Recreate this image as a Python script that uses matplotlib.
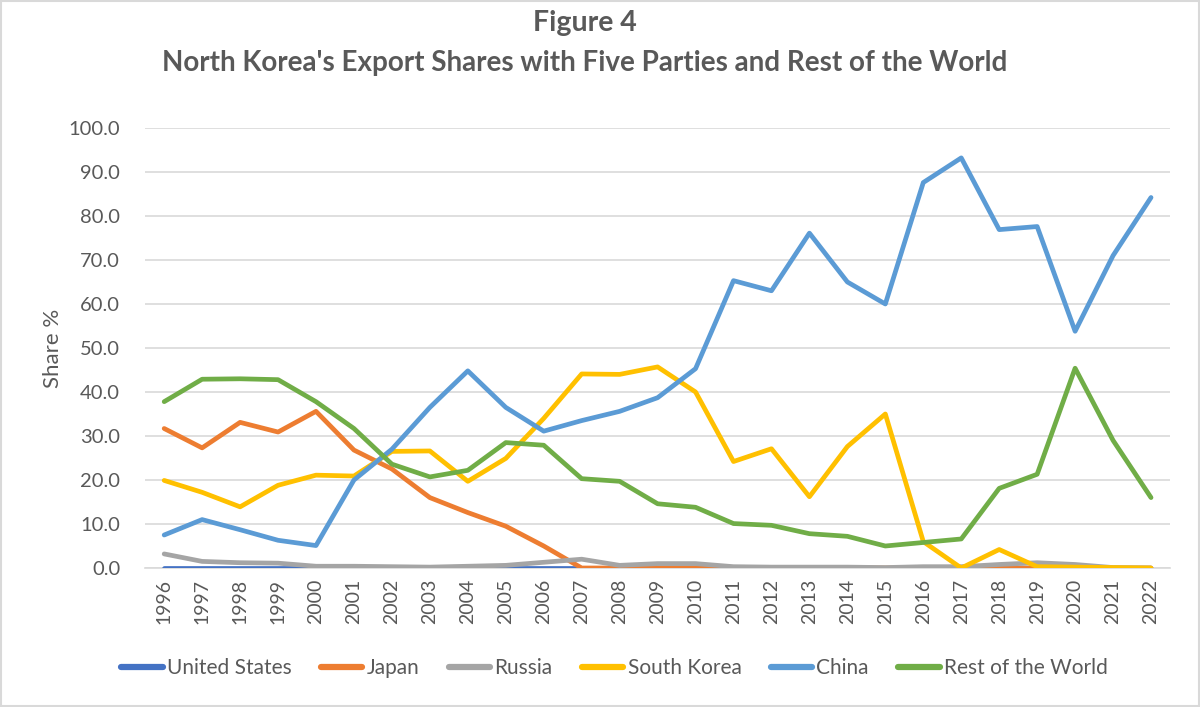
import matplotlib
matplotlib.use("Agg")
import matplotlib.pyplot as plt
from matplotlib.patches import Rectangle

plt.rcParams['font.family'] = ['Lato', 'DejaVu Sans']

years = list(range(1996, 2023))

# US line only runs to 2007 in the source
us = [0.0] * 12 + [None] * 15
japan = [31.7, 27.3, 33.1, 30.9, 35.6, 26.8, 22.5, 16.0, 12.6, 9.5, 5.0, 0.0,
         0.0, 0.0, 0.0, 0.0, 0.0, 0.0, 0.0, 0.0, 0.0, 0.0, 0.0, 0.0, 0.0, 0.0, 0.0]
russia = [3.2, 1.5, 1.2, 1.1, 0.4, 0.4, 0.3, 0.2, 0.4, 0.6, 1.3, 2.0, 0.6, 1.0,
          1.0, 0.3, 0.2, 0.2, 0.2, 0.1, 0.3, 0.3, 0.8, 1.2, 0.8, 0.1, 0.0]
south_korea = [19.9, 17.2, 13.9, 18.8, 21.1, 20.9, 26.5, 26.6, 19.7, 24.9, 34.0,
               44.1, 44.0, 45.7, 40.0, 24.2, 27.1, 16.2, 27.6, 35.0, 6.0, 0.0,
               4.2, 0.3, 0.2, 0.1, 0.0]
china = [7.5, 11.0, 8.7, 6.3, 5.1, 20.0, 27.0, 36.5, 44.8, 36.5, 31.1, 33.5, 35.6,
         38.7, 45.3, 65.3, 63.0, 76.1, 65.0, 60.0, 87.6, 93.2, 76.9, 77.6, 53.8,
         71.0, 84.2]
rest = [37.8, 42.9, 43.0, 42.8, 37.8, 31.7, 23.6, 20.7, 22.2, 28.5, 27.9, 20.3,
        19.7, 14.6, 13.8, 10.1, 9.7, 7.8, 7.2, 5.0, 5.8, 6.6, 18.1, 21.3, 45.4,
        29.0, 16.0]

series = [
    ("United States", us, "#4472C4"),
    ("Japan", japan, "#ED7D31"),
    ("Russia", russia, "#A5A5A5"),
    ("South Korea", south_korea, "#FFC000"),
    ("China", china, "#5B9BD5"),
    ("Rest of the World", rest, "#70AD47"),
]

fig = plt.figure(figsize=(12, 7.07), dpi=100)
ax = fig.add_axes([0.121, 0.1966, 0.854, 0.6224])

for i, (name, vals, col) in enumerate(series):
    ys = [float('nan') if v is None else v for v in vals]
    ax.plot(years, ys, color=col, lw=3.4, label=name, zorder=3 + i,
            solid_capstyle='round', solid_joinstyle='round')

ax.set_xlim(1995.5, 2022.5)
ax.set_ylim(0, 100)
ax.set_yticks(range(0, 101, 10))
ax.set_yticklabels([f"{v:.1f}" for v in range(0, 101, 10)])
ax.set_xticks(years)
ax.set_xticklabels([str(y) for y in years], rotation=90)
ax.grid(axis='y', color='#D9D9D9', lw=1.2)
ax.set_axisbelow(True)
for s in ['top', 'right', 'left']:
    ax.spines[s].set_visible(False)
ax.spines['bottom'].set_color('#D9D9D9')
ax.spines['bottom'].set_linewidth(1.2)
ax.tick_params(axis='x', length=0, labelsize=14, colors='#595959', pad=8)
ax.tick_params(axis='y', length=0, labelsize=14.5, colors='#595959', pad=18)
ax.set_ylabel("Share %", fontsize=16, color='#595959', labelpad=4)

fig.text(0.487, 0.968, "Figure 4", ha='center', va='center',
         fontsize=20.5, fontweight='bold', color='#595959')
fig.text(0.487, 0.911, "North Korea's Export Shares with Five Parties and Rest of the World",
         ha='center', va='center', fontsize=20, fontweight='bold', color='#595959')

leg = fig.legend(loc='center', bbox_to_anchor=(0.512, 0.055), ncol=6, frameon=False,
                 fontsize=15, handlelength=2.0, columnspacing=1.4, handletextpad=0.2)
for t in leg.get_texts():
    t.set_color('#595959')
for h in leg.get_lines():
    h.set_linewidth(4.5)

fig.add_artist(Rectangle((0.001, 0.001), 0.998, 0.997, transform=fig.transFigure,
                         fill=False, edgecolor='#D9D9D9', lw=1.5))

fig.savefig("out.png", dpi=100)
